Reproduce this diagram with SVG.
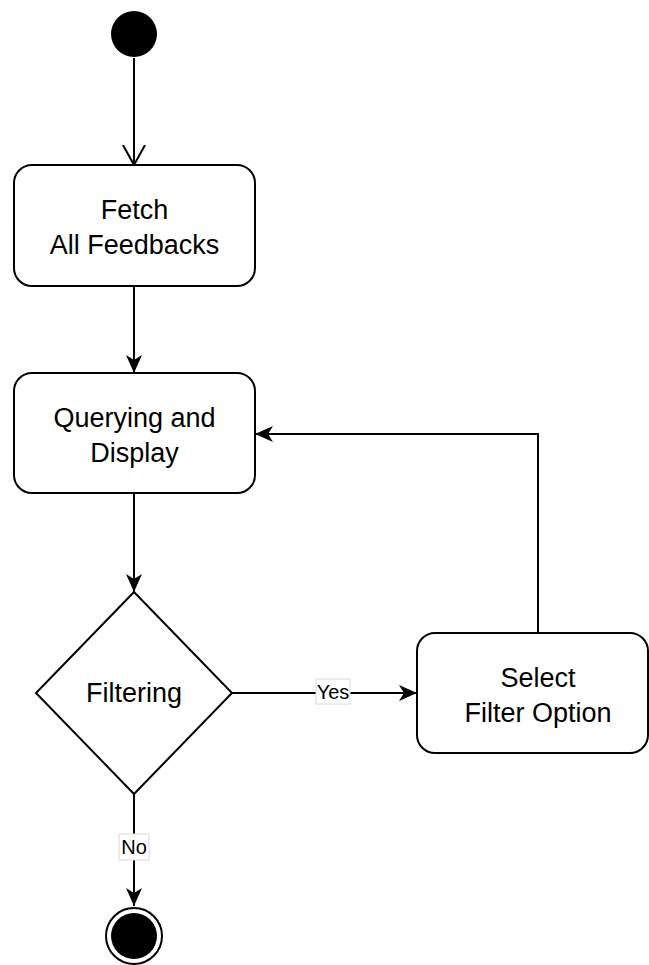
<svg xmlns="http://www.w3.org/2000/svg" width="649" height="965" viewBox="0 0 649 965">
<style>
  .box { fill: #ffffff; stroke: #000000; stroke-width: 2; }
  .edge { fill: none; stroke: #000000; stroke-width: 2; }
  .txt { font-family: "Liberation Sans", Arial, sans-serif; font-size: 27px; fill: #000000; text-anchor: middle; }
  .lbl { font-family: "Liberation Sans", Arial, sans-serif; font-size: 20px; fill: #000000; text-anchor: middle; }
  .lblbg { fill: #ffffff; stroke: #d9d9d9; stroke-width: 1; }
</style>
<defs>
  <marker id="filled" markerWidth="20" markerHeight="20" refX="18" refY="9" orient="auto" markerUnits="userSpaceOnUse">
    <path d="M0,1 L18,9 L0,17 L5,9 Z" fill="#000000"/>
  </marker>
  <marker id="open" markerWidth="22" markerHeight="24" refX="20" refY="12" orient="auto" markerUnits="userSpaceOnUse">
    <path d="M0,1 L20,12 L0,23" fill="none" stroke="#000000" stroke-width="2"/>
  </marker>
</defs>
<rect width="649" height="965" fill="#ffffff"/>
<g id="connectors">
  <path class="edge" d="M134,58 L134,165" marker-end="url(#open)"/>
  <path class="edge" d="M134,286 L134,373" marker-end="url(#filled)"/>
  <path class="edge" d="M134,493 L134,592" marker-end="url(#filled)"/>
  <path class="edge" d="M232,693 L417,693" marker-end="url(#filled)"/>
  <path class="edge" d="M538,633 L538,434 L255,434" marker-end="url(#filled)"/>
  <path class="edge" d="M134,794 L134,906" marker-end="url(#filled)"/>
  <g id="label-yes">
    <rect class="lblbg" x="316" y="679" width="34" height="25"/>
    <text class="lbl" x="333" y="699">Yes</text>
  </g>
  <g id="label-no">
    <rect class="lblbg" x="119" y="834" width="30" height="26"/>
    <text class="lbl" x="134" y="854">No</text>
  </g>
</g>
<g id="start">
  <circle cx="134" cy="34" r="23" fill="#000000"/>
</g>
<g id="fetch">
  <rect class="box" x="14" y="165" width="241" height="121" rx="18" ry="18"/>
  <text class="txt" x="134.5" y="219">Fetch</text>
  <text class="txt" x="134.5" y="254">All Feedbacks</text>
</g>
<g id="query">
  <rect class="box" x="14" y="373" width="241" height="120" rx="18" ry="18"/>
  <text class="txt" x="134.5" y="427">Querying and</text>
  <text class="txt" x="134.5" y="462">Display</text>
</g>
<g id="filtering">
  <polygon class="box" points="134,592 232,693 134,794 36,693"/>
  <text class="txt" x="134" y="702">Filtering</text>
</g>
<g id="select">
  <rect class="box" x="417" y="633" width="231" height="120" rx="18" ry="18"/>
  <text class="txt" x="538" y="687">Select</text>
  <text class="txt" x="538" y="722">Filter Option</text>
</g>
<g id="end">
  <circle cx="134" cy="936" r="28" fill="#ffffff" stroke="#000000" stroke-width="2"/>
  <circle cx="134" cy="936" r="23" fill="#000000"/>
</g>
</svg>
